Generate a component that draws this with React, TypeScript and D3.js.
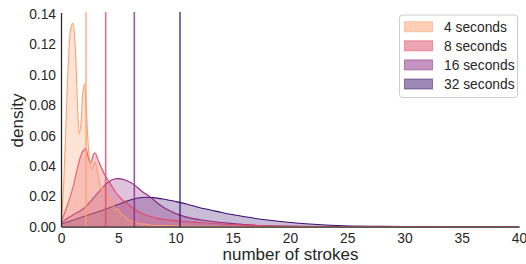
import React from "react";
import * as d3 from "d3";

// ---- data ----
const seriesNames = ["4 seconds", "8 seconds", "16 seconds", "32 seconds"];
const seriesColors = ["#fe9f6d", "#de4968", "#8c2981", "#3b0f70"];

const x4 = [0, 0.2, 0.4, 0.6, 0.8, 1.0, 1.2, 1.4, 1.55, 1.7, 1.85, 2.0, 2.15, 2.3, 2.5, 2.7, 2.9, 3.1, 3.3, 3.5, 3.7, 3.9, 4.1, 4.3, 4.5, 4.7, 4.9, 5.1, 5.3, 5.5, 5.8, 6.1, 6.4, 6.8, 7.2, 7.8, 8.5, 10, 12, 15, 20, 30, 40];
const y4 = [0.004, 0.03, 0.07, 0.108, 0.13, 0.134, 0.118, 0.08, 0.061, 0.068, 0.087, 0.094, 0.08, 0.058, 0.042, 0.038, 0.043, 0.038, 0.03, 0.025, 0.026, 0.023, 0.018, 0.019, 0.015, 0.011, 0.012, 0.01, 0.008, 0.0075, 0.005, 0.004, 0.0035, 0.002, 0.002, 0.0012, 0.001, 0.0008, 0.0004, 0.0002, 0.0001, 0, 0];

const x8 = [0, 0.5, 1.0, 1.5, 1.8, 2.1, 2.5, 2.9, 3.3, 3.8, 4.3, 4.8, 5.3, 5.8, 6.3, 7, 7.7, 8.5, 9.5, 10.5, 12, 14, 16, 18, 20, 25, 30, 40];
const y8 = [0.004, 0.014, 0.026, 0.042, 0.049, 0.0515, 0.042, 0.0488, 0.042, 0.034, 0.028, 0.022, 0.018, 0.015, 0.012, 0.009, 0.007, 0.0055, 0.0045, 0.0038, 0.003, 0.002, 0.0013, 0.0008, 0.0005, 0.0002, 0.0001, 0];

const x16 = [0, 1, 2, 3, 3.5, 4, 4.7, 5.5, 6.3, 7.1, 7.7, 8.6, 9.5, 10.35, 11.2, 12.1, 13, 15, 17.5, 20, 25, 30, 40];
const y16 = [0.003, 0.008, 0.0125, 0.021, 0.025, 0.029, 0.0317, 0.031, 0.028, 0.023, 0.02, 0.0145, 0.0105, 0.0078, 0.006, 0.0048, 0.0038, 0.0022, 0.0009, 0.0004, 0.0001, 0, 0];

const x32 = [0, 1, 2, 3, 4, 5, 6, 7, 8, 9, 10, 11, 12, 13, 14, 15, 16, 18, 20, 22, 24, 27, 30, 35, 40];
const y32 = [0.002, 0.0045, 0.007, 0.0095, 0.0122, 0.015, 0.0178, 0.0194, 0.0193, 0.0182, 0.0167, 0.015, 0.0128, 0.0112, 0.0095, 0.008, 0.0067, 0.0046, 0.003, 0.0018, 0.001, 0.0005, 0.0003, 0.0001, 0];

const meanLines = [2.14, 3.86, 6.36, 10.35];

const xTicks = [0, 5, 10, 15, 20, 25, 30, 35, 40];
const yTicks = [0, 0.02, 0.04, 0.06, 0.08, 0.1, 0.12, 0.14];

const curvesX = [x4, x8, x16, x32];
const curvesY = [y4, y8, y16, y32];

// ---- layout ----
const W = 526;
const H = 264;
const left = 61.5;
const right = 519.5;
const top = 14;
const bottom = 227;
const FONT = "'Liberation Sans', Arial, sans-serif";
const TXT = "#262626";

export default function App() {
  const x = d3.scaleLinear().domain([0, 40]).range([left, right]);
  const y = d3.scaleLinear().domain([0, 0.14]).range([bottom, top]);

  const curve = d3.curveCatmullRom.alpha(0.5);
  const area = d3
    .area<[number, number]>()
    .x((d) => x(d[0]))
    .y0(y(0))
    .y1((d) => y(d[1]))
    .curve(curve);
  const line = d3
    .line<[number, number]>()
    .x((d) => x(d[0]))
    .y((d) => y(d[1]))
    .curve(curve);

  const order = [3, 2, 1, 0];

  return (
    <svg
      width={W}
      height={H}
      style={{ position: "fixed", left: 0, top: 0, background: "#fff" }}
      fontFamily={FONT}
    >
      <defs>
        <clipPath id="plotclip">
          <rect x={left} y={top - 2} width={right - left} height={bottom - top + 2} />
        </clipPath>
      </defs>
      <rect x={0} y={0} width={W} height={H} fill="#fff" />
      <g clipPath="url(#plotclip)">
        {order.map((i) => {
          const pts: [number, number][] = curvesX[i].map((v, k) => [v, curvesY[i][k]]);
          return (
            <g key={i}>
              <path d={area(pts) || ""} fill={seriesColors[i]} fillOpacity={0.28} stroke="none" />
              <path d={line(pts) || ""} fill="none" stroke={seriesColors[i]} strokeWidth={1.1} />
            </g>
          );
        })}
        {meanLines.map((m, i) => (
          <line
            key={i}
            x1={x(m)}
            x2={x(m)}
            y1={top - 2}
            y2={bottom}
            stroke={seriesColors[i]}
            strokeOpacity={0.78}
            strokeWidth={1.6}
          />
        ))}
      </g>

      {/* spines */}
      <line x1={left} x2={left} y1={top - 1} y2={bottom} stroke={TXT} strokeWidth={1.25} />
      <line x1={left} x2={right} y1={bottom} y2={bottom} stroke={TXT} strokeWidth={1.25} />

      {/* y tick labels */}
      {yTicks.map((t) => (
        <text
          key={t}
          x={left - 5.5}
          y={y(t)}
          dy="0.35em"
          textAnchor="end"
          fontSize={13.8}
          fill={TXT}
        >
          {d3.format(".2f")(t)}
        </text>
      ))}
      {/* x tick labels */}
      {xTicks.map((t) => (
        <text key={t} x={x(t)} y={242.5} textAnchor="middle" fontSize={13.8} fill={TXT}>
          {t}
        </text>
      ))}

      {/* axis labels */}
      <text x={(left + right) / 2} y={259.5} textAnchor="middle" fontSize={17} fill={TXT}>
        number of strokes
      </text>
      <text
        transform={`translate(23, ${(top + bottom) / 2}) rotate(-90)`}
        textAnchor="middle"
        fontSize={17}
        fill={TXT}
      >
        density
      </text>

      {/* legend */}
      <g>
        <rect x={399.5} y={15} width={118} height={82.5} rx={3} fill="#fff" fillOpacity={0.8} stroke="#cccccc" strokeWidth={1} />
        {seriesNames.map((name, i) => {
          const cy = 26.7 + i * 19.1;
          return (
            <g key={name}>
              <rect
                x={404.5}
                y={cy - 5}
                width={28}
                height={10}
                fill={seriesColors[i]}
                fillOpacity={0.5}
                stroke={seriesColors[i]}
                strokeOpacity={0.5}
                strokeWidth={1}
              />
              <text x={444} y={cy} dy="0.35em" fontSize={13.8} fill={TXT}>
                {name}
              </text>
            </g>
          );
        })}
      </g>
    </svg>
  );
}
